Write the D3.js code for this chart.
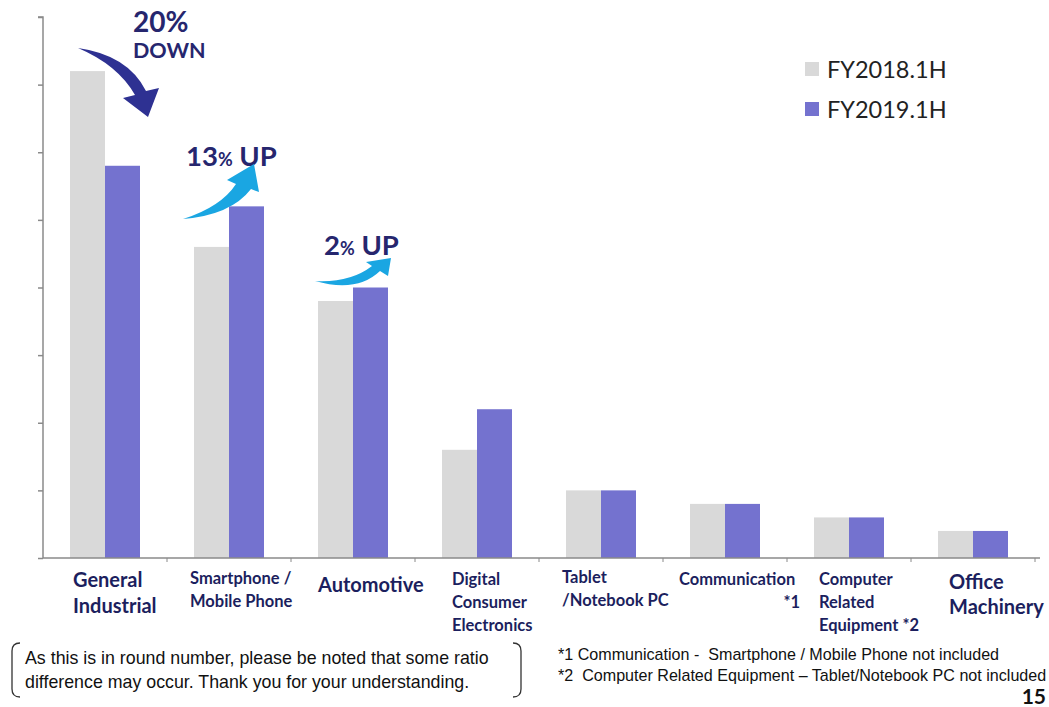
<!DOCTYPE html>
<html><head><meta charset="utf-8">
<script src="https://cdn.jsdelivr.net/npm/d3@7"></script>
<style>
body{margin:0;background:#fff;}
svg{display:block;}
text{white-space:pre;}
</style></head>
<body>
<svg id="chart" width="1049" height="707"></svg>
<script>
const categories = ["General Industrial","Smartphone / Mobile Phone","Automotive","Digital Consumer Electronics","Tablet /Notebook PC","Communication *1","Computer Related Equipment *2","Office Machinery"];
const seriesNames = ["FY2018.1H","FY2019.1H"];
const fy2018 = [7.2, 4.6, 3.8, 1.6, 1.0, 0.8, 0.6, 0.4];
const fy2019 = [5.8, 5.2, 4.0, 2.2, 1.0, 0.8, 0.6, 0.4];
const yTicks = [0,1,2,3,4,5,6,7,8];
const catLabelLines = [["General","Industrial"],["Smartphone /","Mobile Phone"],["Automotive"],["Digital","Consumer","Electronics"],["Tablet","/Notebook PC"],["Communication","*1"],["Computer","Related","Equipment *2"],["Office","Machinery"]];
const changeLabels = [{cat:0,num:"20",pct:"%",word:"DOWN"},{cat:1,num:"13",pct:"%",word:"UP"},{cat:2,num:"2",pct:"%",word:"UP"}];
const noteLines = ["As this is in round number, please be noted that some ratio","difference may occur. Thank you for your understanding."];
const footnotes = ["*1 Communication -  Smartphone / Mobile Phone not included","*2  Computer Related Equipment \u2013 Tablet/Notebook PC not included"];
const pageNumber = "15";

const svg = d3.select("#chart");
const colors = ["#d9d9d9","#7472cf"];
const navy = "#1c1f5e";
const x0 = 43, x1 = 1035, yBase = 558, yTop = 17;

const x = d3.scaleBand().domain(d3.range(categories.length)).range([x0, x1]).paddingInner(0).paddingOuter(0);
const xs = d3.scaleBand().domain([0,1]).range([0, 70]);
const y = d3.scaleLinear().domain([0,8]).range([yBase, yTop]);
const barOffset = (x.bandwidth() - 70) / 2;

// bars
const data = [fy2018, fy2019];
data.forEach((vals, si) => {
  svg.append("g").selectAll("rect").data(vals).join("rect")
    .attr("x", (d,i) => x(i) + barOffset + xs(si))
    .attr("y", d => y(d))
    .attr("width", xs.bandwidth())
    .attr("height", d => yBase - y(d))
    .attr("fill", colors[si]);
});

// y axis
const yAxis = d3.axisLeft(y).tickValues(yTicks).tickSize(5).tickFormat("");
const gy = svg.append("g").attr("transform", `translate(${x0},0)`).call(yAxis);
gy.selectAll("path,line").attr("stroke", "#8a8a8a").attr("stroke-width", 1.5);
gy.select(".domain").attr("d", `M-5,${yTop}H0V${yBase}`);

// x axis
const bounds = d3.range(categories.length + 1).map(i => i === categories.length ? x1 : x(i));
const gx = svg.append("g");
gx.append("line").attr("x1", x0).attr("x2", x1 + 5).attr("y1", yBase).attr("y2", yBase).attr("stroke", "#8a8a8a").attr("stroke-width", 1.5);
gx.selectAll("line.t").data(bounds.slice(1)).join("line").attr("class","t")
  .attr("x1", d => d).attr("x2", d => d).attr("y1", yBase).attr("y2", yBase + 4)
  .attr("stroke", "#8a8a8a").attr("stroke-width", 1);

// category labels
const labelFont = "Lato, 'Open Sans', sans-serif";
const labelSpec = [
  {dx:30, size:20, base:587, lh:26, anchor:"start"},
  {dx:23, size:16.5, base:584, lh:23, anchor:"start"},
  {dx:27, size:20, base:592, lh:26, anchor:"start"},
  {dx:37, size:16.5, base:585, lh:23, anchor:"start"},
  {dx:23, size:16.5, base:583, lh:23, anchor:"start"},
  {dx:16, size:16.5, base:585, lh:23, anchor:"mixed"},
  {dx:32, size:16.5, base:585, lh:23, anchor:"start"},
  {dx:38, size:20, base:589, lh:25, anchor:"start"}
];
catLabelLines.forEach((lines, i) => {
  const s = labelSpec[i];
  const t = svg.append("text").attr("font-family", labelFont).attr("font-weight", 700)
    .attr("font-size", s.size).attr("fill", navy);
  lines.forEach((ln, k) => {
    const ts = t.append("tspan").attr("y", s.base + k * s.lh).text(ln);
    if (s.anchor === "mixed" && k === 1) {
      ts.attr("x", x(i) + s.dx + 121).attr("text-anchor", "end");
    } else {
      ts.attr("x", x(i) + s.dx);
    }
  });
});

// legend
const legend = svg.append("g").attr("transform", "translate(805,62)");
seriesNames.forEach((n, i) => {
  legend.append("rect").attr("x", 0).attr("y", i * 40).attr("width", 14).attr("height", 14).attr("fill", colors[i]);
  legend.append("text").attr("x", 22).attr("y", i * 40 + 16).attr("font-family", "Lato, 'Open Sans', sans-serif")
    .attr("font-size", 23.5).attr("fill", "#222").text(n);
});

// change annotations
const annColor = "#26266e";
const annPos = [
  {x:133, y:32, size:28, pctSize:28, wordBelow:true},
  {x:186, y:166, size:27.5, pctSize:18},
  {x:324, y:255, size:27.5, pctSize:18}
];
changeLabels.forEach((c, i) => {
  const p = annPos[i];
  const t = svg.append("text").attr("x", p.x).attr("y", p.y).attr("font-family", "Lato, 'Open Sans', sans-serif")
    .attr("font-weight", 700).attr("fill", annColor).attr("font-size", p.size);
  t.append("tspan").text(c.num);
  t.append("tspan").attr("font-size", p.pctSize).text(c.pct);
  if (p.wordBelow) {
    svg.append("text").attr("x", p.x).attr("y", p.y + 26).attr("font-family", "Lato, 'Open Sans', sans-serif")
      .attr("font-weight", 700).attr("fill", annColor).attr("font-size", 21.5).text(c.word);
  } else {
    t.append("tspan").text(" " + c.word);
  }
});

// arrows
svg.append("path").attr("fill", "#2e3192")
  .attr("d", "M78,48 Q128,55 146,91 L159,88 L148,117 L123,98 L135,95 Q118,65 78,48 Z");
svg.append("path").attr("fill", "#1aa6e2")
  .attr("d", "M183,219 Q231,215 251,189 L259,192 L254,164 L227,180 L236,184 Q221,207 183,219 Z");
svg.append("path").attr("fill", "#1aa6e2")
  .attr("d", "M315,281 Q357,293 380,271 L388,276 L391,258 L366,262 L372,266 Q350,283 315,281 Z");

// note box
const note = svg.append("g");
note.append("path").attr("d", "M20,643 Q12,643 12,651 L12,689 Q12,697 20,697").attr("fill","none").attr("stroke","#333").attr("stroke-width",1.3);
note.append("path").attr("d", "M513,643 Q521,643 521,651 L521,689 Q521,697 513,697").attr("fill","none").attr("stroke","#333").attr("stroke-width",1.3);
noteLines.forEach((ln, k) => {
  note.append("text").attr("x", 25).attr("y", 664 + k * 24).attr("font-family", "'Liberation Sans', Arial, sans-serif")
    .attr("font-size", 17.8).attr("fill", "#111").text(ln);
});

// footnotes
footnotes.forEach((ln, k) => {
  svg.append("text").attr("x", 558).attr("y", 660 + k * 21).attr("font-family", "'Liberation Sans', Arial, sans-serif")
    .attr("font-size", 16.1).attr("fill", "#111").text(ln);
});
svg.append("text").attr("x", 1046).attr("y", 704).attr("text-anchor", "end").attr("font-family", "Lato, 'Open Sans', sans-serif")
  .attr("font-weight", 700).attr("font-size", 21).attr("fill", "#111").text(pageNumber);
</script>
</body></html>
